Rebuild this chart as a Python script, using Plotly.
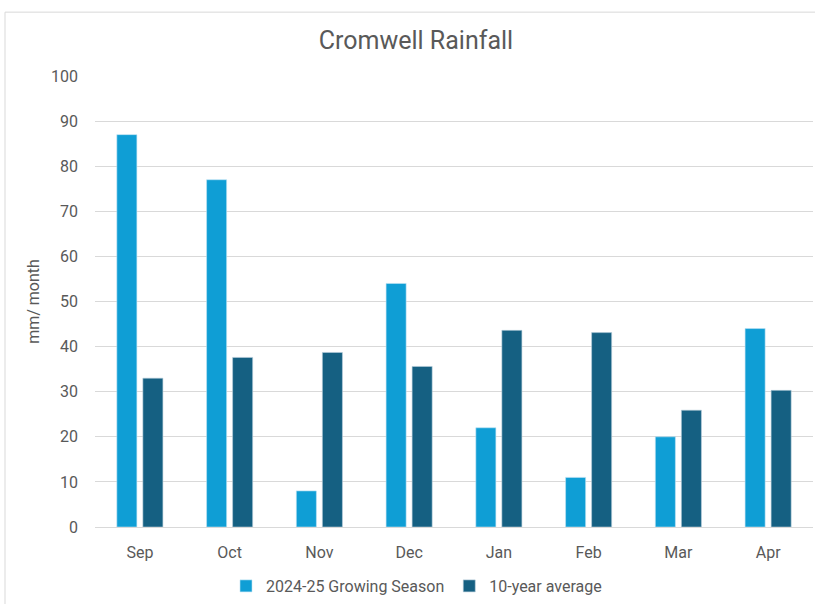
import plotly.graph_objects as go

# Monthly rainfall at Cromwell (mm/month)
months = ["Sep", "Oct", "Nov", "Dec", "Jan", "Feb", "Mar", "Apr"]
season_2024_25 = [87, 77, 8, 54, 22, 11, 20, 44]
ten_year_avg = [33.0, 37.6, 38.7, 35.6, 43.6, 43.1, 25.9, 30.3]
y_ticks = [0, 10, 20, 30, 40, 50, 60, 70, 80, 90, 100]

W, H = 815, 604
ML, MR, MT, MB = 95, 2, 76, 76
PW, PH = W - ML - MR, H - MT - MB

TEXT = "#595959"
GRID = "#d9d9d9"
FONT = "Roboto, 'Open Sans', sans-serif"

fig = go.Figure()
fig.add_trace(go.Bar(
    x=months, y=season_2024_25, name="2024-25 Growing Season",
    marker=dict(color="#0F9ED5", line=dict(color="#bfe3f3", width=0.6)),
))
fig.add_trace(go.Bar(
    x=months, y=ten_year_avg, name="10-year average",
    marker=dict(color="#156082", line=dict(color="#b9cfdb", width=0.6)),
))

def px_x(p):
    return (p - ML) / PW

def px_y(p):
    return (H - MB - p) / PH

# light frame of the chart area (left and top edges)
fig.add_shape(type="line", xref="paper", yref="paper",
              x0=px_x(5), x1=px_x(5), y0=px_y(610), y1=px_y(12),
              line=dict(color=GRID, width=1), layer="below")
fig.add_shape(type="line", xref="paper", yref="paper",
              x0=px_x(5), x1=px_x(815), y0=px_y(12), y1=px_y(12),
              line=dict(color=GRID, width=1), layer="below")

fig.update_layout(
    width=W, height=H,
    margin=dict(l=ML, r=MR, t=MT, b=MB),
    paper_bgcolor="white", plot_bgcolor="white",
    barmode="group", bargap=0.42, bargroupgap=0.23,
    font=dict(family=FONT, color=TEXT, size=16),
    title=dict(text="Cromwell Rainfall", font=dict(size=25, color=TEXT, family=FONT),
               x=px_x(416), xref="paper", xanchor="center",
               y=1 - 40 / H, yref="container", yanchor="middle"),
    showlegend=True,
    legend=dict(orientation="h", x=px_x(226), xanchor="left",
                y=px_y(586), yanchor="middle",
                font=dict(size=16, color=TEXT), itemwidth=30,
                bgcolor="rgba(0,0,0,0)"),
    xaxis=dict(showgrid=False, showline=False, ticks="", ticklabelstandoff=14,
               tickfont=dict(size=16, color=TEXT)),
    yaxis=dict(range=[0, 100], tickvals=y_ticks, showgrid=True, gridcolor=GRID,
               gridwidth=1, zeroline=True, zerolinecolor=GRID, zerolinewidth=1,
               showline=False, ticks="", ticklabelstandoff=16,
               tickfont=dict(size=16, color=TEXT),
               title=dict(text="mm/ month", standoff=7,
                          font=dict(size=16, color=TEXT))),
)

fig.write_html("out.html")
